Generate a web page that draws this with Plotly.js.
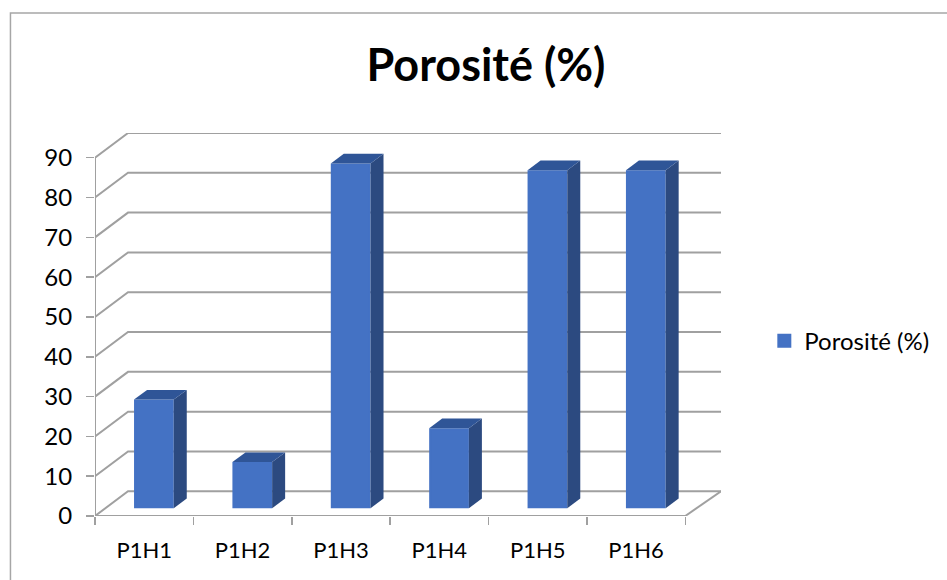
<!DOCTYPE html>
<html>
<head>
<meta charset="utf-8">
<script src="https://cdn.plot.ly/plotly-3.0.1.min.js"></script>
<style>html,body{margin:0;padding:0;background:#fff}</style>
</head>
<body>
<div id="chart" style="width:947px;height:580px"></div>
<script>
var categories = ["P1H1", "P1H2", "P1H3", "P1H4", "P1H5", "P1H6"];
var porosity = [27.3, 11.6, 86.6, 20.1, 84.9, 84.9];
var yTicks = [0, 10, 20, 30, 40, 50, 60, 70, 80, 90];
var seriesName = "Porosité (%)";

var W = 947, H = 580;
var L = 95, R = 720.7, T = 133.3, B = 515.7;
var catPx = (685 - 95) / 6, valPx = (515.7 - 158) / 90;
var wallDx = 33 / catPx, wallDy = 24.7 / valPx;
var xMax = 5.5 + (R - 685) / catPx, yMax = 90 + wallDy;
var barStart = (134 - 144.15 + 1) / catPx, barW = (39.7 - 2) / catPx;
var baseV = 7.7 / valPx, sideDx = 13 / catPx, sideDy = 9.7 / valPx;
var strokeV = 1 / valPx;
var FRONT = "#4472C4", SIDE = "#2C4A80", TOP = "#2F5597", GRID = "#A0A0A0";

function px(x) { return (x - L) / (R - L); }
function py(y) { return (B - y) / (B - T); }

var traces = [{
  type: "bar", name: seriesName, x: categories,
  y: porosity.map(function (v) { return v - 2 * strokeV; }), base: baseV + strokeV,
  customdata: porosity, hovertemplate: "%{x}: %{customdata}<extra></extra>",
  width: barW, offset: barStart,
  marker: { color: FRONT, line: { color: FRONT, width: 2 } },
  showlegend: true
}];

function face(xs, ys, color) {
  return { type: "scatter", xaxis: "x2", yaxis: "y", x: xs, y: ys, mode: "lines",
    fill: "toself", fillcolor: color, line: { width: 0, color: color },
    hoverinfo: "skip", showlegend: false };
}
porosity.forEach(function (v, i) {
  var x0 = i + barStart - 1 / catPx, x1 = i + barStart + barW + 1 / catPx;
  var b = baseV, t = baseV + v;
  traces.push(face([x1, x1 + sideDx, x1 + sideDx, x1, x1], [b, b + sideDy, t + sideDy, t, b], SIDE));
  traces.push(face([x0, x0 + sideDx, x1 + sideDx, x1, x0], [t, t + sideDy, t + sideDy, t, t], TOP));
});

var shapes = [];
function seg(path, w) {
  shapes.push({ type: "path", xref: "x2", yref: "y", layer: "below", path: path,
    line: { color: GRID, width: w || 2 } });
}
yTicks.forEach(function (v) {
  seg("M-0.5," + v + " L" + (-0.5 + wallDx) + "," + (v + wallDy) + " L" + xMax + "," + (v + wallDy));
});
seg("M-0.5,0 L-0.5,90");
seg("M-0.5,0 L5.5,0");
seg("M5.5,0 L" + xMax + "," + wallDy);
shapes.push({ type: "path", xref: "paper", yref: "paper", layer: "below",
  path: "M" + px(947) + "," + py(13.5) + " L" + px(10.5) + "," + py(13.5) + " L" + px(10.5) + "," + py(580),
  line: { color: "#A6A6A6", width: 1.5 } });

var layout = {
  width: W, height: H,
  margin: { l: L, r: W - R, t: T, b: H - B, pad: 0 },
  paper_bgcolor: "#fff", plot_bgcolor: "rgba(0,0,0,0)",
  font: { family: "Lato, 'Open Sans', sans-serif", color: "#000" },
  title: { text: seriesName, font: { size: 45, family: "Lato, 'Open Sans', sans-serif", weight: 700, color: "#000" },
    x: 486 / W, xanchor: "center", xref: "container", y: 1 - 65 / H, yanchor: "middle", yref: "container" },
  xaxis: { type: "category", categoryarray: categories, categoryorder: "array",
    range: [-0.5, xMax], tickson: "boundaries", ticks: "outside", ticklen: 8, tickwidth: 1.5, tickcolor: GRID,
    showline: false, showgrid: false, zeroline: false, tickfont: { size: 22, color: "#000" },
    ticklabelstandoff: 19, fixedrange: true },
  xaxis2: { overlaying: "x", range: [-0.5, xMax], visible: false, fixedrange: true },
  yaxis: { range: [0, yMax], tickmode: "array", tickvals: yTicks, ticktext: yTicks.map(String),
    ticks: "outside", ticklen: 8, tickwidth: 1.5, tickcolor: GRID, showline: false, showgrid: false, zeroline: false,
    tickfont: { size: 24, color: "#000" }, ticklabelstandoff: 9, fixedrange: true },
  legend: { x: px(764), xanchor: "left", y: py(341), yanchor: "middle", font: { size: 24, color: "#000" },
    bgcolor: "rgba(0,0,0,0)", borderwidth: 0 },
  showlegend: true, shapes: shapes, bargap: 0
};
Plotly.newPlot("chart", traces, layout, { displayModeBar: false, staticPlot: true });
</script>
</body>
</html>
